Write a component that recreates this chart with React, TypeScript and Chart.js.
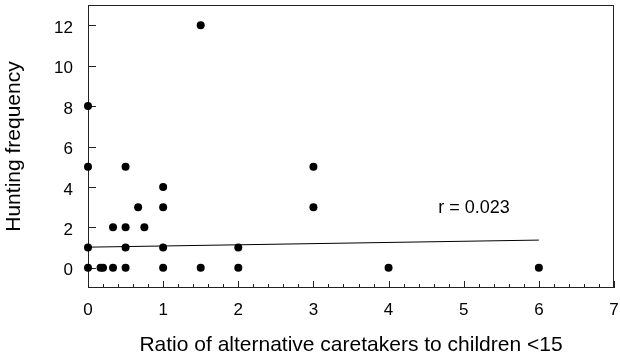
import React, { useEffect, useRef } from "react";
import { Chart, registerables } from "chart.js";

Chart.register(...registerables);

// Data
const ratioValues = [
  0, 0, 0, 0,
  0.167, 0.2,
  0.333, 0.333,
  0.5, 0.5, 0.5, 0.5,
  0.667, 0.75,
  1, 1, 1, 1,
  1.5, 1.5,
  2, 2,
  3, 3,
  4, 6,
];
const huntingValues = [
  0, 1, 5, 8,
  0, 0,
  0, 2,
  0, 1, 2, 5,
  3, 2,
  0, 1, 3, 4,
  0, 12,
  0, 1,
  3, 5,
  0, 0,
];
const fitX = [0, 6];
const fitY = [1.02, 1.37];
const yTickValues = [0, 2, 4, 6, 8, 10, 12];
const xTickValues = [0, 1, 2, 3, 4, 5, 6, 7];
const annotationText = "r = 0.023";
const annotationPos = { x: 4.66, y: 2.96 };
const xTitle = "Ratio of alternative caretakers to children <15";
const yTitle = "Hunting frequency";

const FONT = "'Liberation Sans', Arial, Helvetica, sans-serif";

const framePlugin = {
  id: "frameTicks",
  beforeDatasetsDraw(chart: any) {
    const { ctx, chartArea, scales } = chart;
    const xs = scales.x;
    const ys = scales.y;
    ctx.save();
    ctx.strokeStyle = "#222";
    ctx.lineWidth = 1;
    ctx.strokeRect(
      chartArea.left + 0.5,
      chartArea.top + 0.5,
      chartArea.right - chartArea.left - 1,
      chartArea.bottom - chartArea.top - 1
    );
    ctx.beginPath();
    // x ticks: major at integers, minor every 0.2, pointing inward
    for (let i = 0; i <= 35; i++) {
      const v = i / 5;
      const px = Math.round(xs.getPixelForValue(v)) + 0.5;
      const len = i % 5 === 0 ? 7 : 4;
      ctx.moveTo(px, chartArea.bottom);
      ctx.lineTo(px, chartArea.bottom - len);
    }
    // y ticks, pointing inward
    for (const v of yTickValues) {
      const py = Math.round(ys.getPixelForValue(v)) + 0.5;
      ctx.moveTo(chartArea.left, py);
      ctx.lineTo(chartArea.left + 8, py);
    }
    ctx.stroke();
    ctx.restore();
  },
  afterDraw(chart: any) {
    const { ctx, scales } = chart;
    ctx.save();
    ctx.fillStyle = "#000";
    ctx.font = `18px ${FONT}`;
    ctx.textAlign = "left";
    ctx.textBaseline = "middle";
    ctx.fillText(
      annotationText,
      scales.x.getPixelForValue(annotationPos.x),
      scales.y.getPixelForValue(annotationPos.y)
    );
    ctx.restore();
  },
};

export default function App() {
  const canvasRef = useRef<HTMLCanvasElement | null>(null);

  useEffect(() => {
    if (!canvasRef.current) return;
    const points = ratioValues.map((x, i) => ({ x, y: huntingValues[i] }));
    const fit = fitX.map((x, i) => ({ x, y: fitY[i] }));
    const chart = new Chart(canvasRef.current, {
      type: "scatter",
      data: {
        datasets: [
          {
            data: fit,
            showLine: true,
            borderColor: "#000",
            borderWidth: 1,
            pointRadius: 0,
            fill: false,
          },
          {
            data: points,
            pointRadius: 4,
            pointBorderWidth: 0,
            pointBackgroundColor: "#000",
            pointBorderColor: "#000",
            clip: false as any,
          },
        ],
      },
      options: {
        responsive: false,
        animation: false,
        events: [],
        layout: { padding: { top: 5, right: 6, left: 0, bottom: 0 } },
        plugins: {
          legend: { display: false },
          tooltip: { enabled: false },
        },
        scales: {
          x: {
            type: "linear",
            min: 0,
            max: 7,
            afterFit: (s: any) => {
              s.height = 72;
              s.paddingLeft = 0;
              s.paddingRight = 0;
              s.paddingTop = 0;
              s.paddingBottom = 0;
            },
            afterBuildTicks: (s: any) => {
              s.ticks = xTickValues.map((v) => ({ value: v }));
            },
            grid: { display: false, drawTicks: false },
            border: { display: false },
            ticks: {
              color: "#000",
              padding: 12,
              maxRotation: 0,
              font: { family: FONT, size: 17 },
              callback: (v: any) => String(v),
            },
            title: {
              display: true,
              text: xTitle,
              color: "#000",
              font: { family: FONT, size: 21 },
              padding: { top: 0, bottom: 2 },
            },
          },
          y: {
            type: "linear",
            min: -1,
            max: 13,
            afterFit: (s: any) => {
              s.width = 88;
              s.paddingLeft = 0;
              s.paddingRight = 0;
              s.paddingTop = 0;
              s.paddingBottom = 0;
            },
            afterBuildTicks: (s: any) => {
              s.ticks = yTickValues.map((v) => ({ value: v }));
            },
            grid: { display: false, drawTicks: false },
            border: { display: false },
            ticks: {
              color: "#000",
              padding: 15,
              labelOffset: 3,
              font: { family: FONT, size: 17 },
              callback: (v: any) => String(v),
            },
            title: {
              display: true,
              text: yTitle,
              color: "#000",
              font: { family: FONT, size: 21 },
              padding: { top: 2, bottom: 0 },
            },
          },
        },
      },
      plugins: [framePlugin],
    });
    return () => chart.destroy();
  }, []);

  return (
    <div style={{ position: "absolute", left: 0, top: 0, width: 620, height: 360, background: "#fff" }}>
      <canvas ref={canvasRef} width={620} height={360} style={{ display: "block" }} />
    </div>
  );
}
